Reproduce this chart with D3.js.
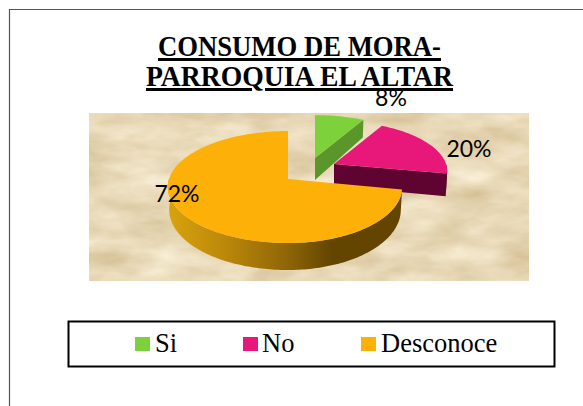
<!DOCTYPE html>
<html><head><meta charset="utf-8">
<script src="https://cdn.jsdelivr.net/npm/d3@7"></script>
<style>html,body{margin:0;padding:0;background:#fff;overflow:hidden}svg{display:block}</style>
</head><body><svg id="c" width="583" height="406"></svg>
<script>
const categories = ["Si", "No", "Desconoce"];
const values = [8, 20, 72];
const titleLines = ["CONSUMO DE MORA-", "PARROQUIA EL ALTAR"];
const topColors = ["#7dd13b", "#e8177a", "#fdb108"];
const sideColors = ["#5b962b", "#5f0430", "url(#wall)"];
// projection of each exploded slice: apex position and radii of the tilted disc
const apexX = [315, 334, 288], apexY = [158, 164, 179];
const radiusR = [113, 112, 113], radiusL = [113, 113, 119], radiusD = [49, 49, 54.86];
const labelX = [391, 469, 177], labelY = [106, 157, 202];
const legendSwatchX = [135, 243, 361], legendTextX = [155, 262, 381];
const titleWidths = [283, 307], titleY = [56, 86];

const svg = d3.select("#c");
const defs = svg.append("defs");
const tex = defs.append("filter").attr("id","paper").attr("x",0).attr("y",0).attr("width","100%").attr("height","100%").attr("color-interpolation-filters","sRGB");
tex.append("feTurbulence").attr("type","fractalNoise").attr("baseFrequency","0.016 0.04").attr("numOctaves",4).attr("seed",7).attr("result","n");
tex.append("feColorMatrix").attr("in","n").attr("type","matrix").attr("values",
 "0.2 0 0 0 0.81  0.26 0 0 0 0.72  0.36 0 0 0 0.54  0 0 0 0 1");
const g = defs.append("linearGradient").attr("id","wall").attr("gradientUnits","userSpaceOnUse")
  .attr("x1",171).attr("x2",401).attr("y1",0).attr("y2",0);
[[0,"#d6a20c"],[0.25,"#b9860a"],[0.5,"#906607"],[0.7,"#634500"],[1,"#634500"]].forEach(s=>g.append("stop").attr("offset",s[0]).attr("stop-color",s[1]));

// frame
svg.append("path").attr("d","M583,9.5H9.5V406").attr("fill","none").attr("stroke","#555").attr("stroke-width",1.2);

// plot area
svg.append("rect").attr("x",89).attr("y",113).attr("width",440).attr("height",168).attr("filter","url(#paper)");

// title
const tt = svg.append("g").attr("font-family","'Liberation Serif',serif").attr("font-weight","bold").attr("font-size",30).attr("text-anchor","middle").attr("fill","#000").attr("text-decoration","underline");
titleLines.forEach((t,i)=>tt.append("text").attr("x",299.5).attr("y",titleY[i]).attr("textLength",titleWidths[i]).attr("lengthAdjust","spacingAndGlyphs").text(t));

// 3D pie
const K = 1/7;
const arcs = d3.pie().sort(null).startAngle(0).endAngle(2*Math.PI)(values);
const proj = (i,a,low) => {
  const v = Math.cos(a), s = Math.sin(a), w = 1 + K*v;
  const depth = low ? 22 - 5*v : 0, shrink = low ? 0.988 : 1;
  const r = s >= 0 ? radiusR[i] : radiusL[i];
  return [apexX[i] + shrink*r*s/w, apexY[i] - radiusD[i]*v/w + depth];
};
const line = d3.line();
const angles = (a0,a1) => { const n = Math.max(2,Math.ceil(Math.abs(a1-a0)/0.02)); return d3.range(n+1).map(k=>a0+(a1-a0)*k/n); };
[0,1,2].forEach(i=>{
  const d = arcs[i], a0 = d.startAngle, a1 = d.endAngle;
  const apexTop = [apexX[i],apexY[i]], apexLow = [apexX[i],apexY[i]+22];
  const gp = svg.append("g");
  // cut face on the clockwise side of slices whose end faces the viewer
  if (i < 2) {
    gp.append("path").attr("fill",sideColors[i])
      .attr("d",line([apexTop,proj(i,a1,false),proj(i,a1,true),apexLow])+"Z");
  }
  // outer wall on the near half
  const w0 = Math.max(a0,Math.PI/2), w1 = Math.min(a1,3*Math.PI/2);
  if (w1 > w0) {
    const ang = angles(w0,w1);
    gp.append("path").attr("fill",sideColors[i])
      .attr("d",line(ang.map(a=>proj(i,a,false)).concat(ang.slice().reverse().map(a=>proj(i,a,true))))+"Z");
  }
  gp.append("path").attr("fill",topColors[i])
    .attr("d",line([apexTop].concat(angles(a0,a1).map(a=>proj(i,a,false))))+"Z");
});

// data labels
svg.append("g").attr("font-family","Lato,sans-serif").attr("font-size",23).attr("text-anchor","middle").attr("fill","#000")
  .selectAll("text").data(values).join("text")
  .attr("x",(d,i)=>labelX[i]).attr("y",(d,i)=>labelY[i]).text(d=>d+"%");

// legend
svg.append("rect").attr("x",68.5).attr("y",321.5).attr("width",486).attr("height",45).attr("fill","#fff").attr("stroke","#000").attr("stroke-width",2);
const lg = svg.append("g").selectAll("g").data(categories).join("g");
lg.append("rect").attr("x",(d,i)=>legendSwatchX[i]).attr("y",337).attr("width",15).attr("height",14).attr("fill",(d,i)=>topColors[i]);
lg.append("text").attr("x",(d,i)=>legendTextX[i]).attr("y",352).attr("font-family","'Liberation Serif',serif").attr("font-size",26.5).attr("fill","#000").text(d=>d);
</script></body></html>
